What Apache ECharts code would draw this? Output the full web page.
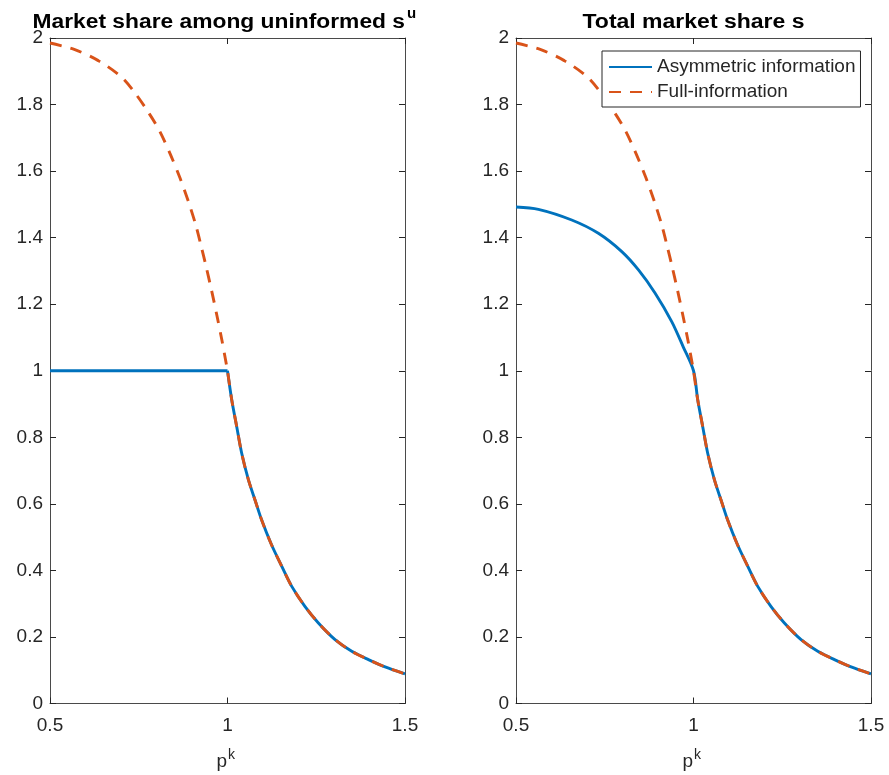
<!DOCTYPE html>
<html>
<head>
<meta charset="utf-8">
<script src="https://cdn.jsdelivr.net/npm/echarts@6/dist/echarts.min.js"></script>
<style>
html,body{margin:0;padding:0;background:#fff;}
#c{width:889px;height:775px;}
</style>
</head>
<body>
<div id="c"></div>
<script>
// ---- data ----
const xTicks = [0.5, 1, 1.5];
const yTicks = [0, 0.2, 0.4, 0.6, 0.8, 1, 1.2, 1.4, 1.6, 1.8, 2];

// Full-information market share (same in both panels)
const pFull = [0.5, 0.57, 0.636, 0.70, 0.74, 0.78, 0.81, 0.84, 0.866, 0.89, 0.91, 0.925, 0.94, 0.955, 0.97, 0.984, 0.996, 1.0,
               1.012, 1.026, 1.040, 1.059, 1.078, 1.096, 1.124, 1.153, 1.181, 1.218, 1.256, 1.303, 1.350, 1.397, 1.444, 1.5];
const sFull = [1.985, 1.965, 1.932, 1.884, 1.834, 1.772, 1.718, 1.648, 1.580, 1.508, 1.440, 1.378, 1.312, 1.242, 1.167, 1.093, 1.024, 1.0,
               0.912, 0.832, 0.752, 0.672, 0.610, 0.552, 0.477, 0.412, 0.352, 0.292, 0.242, 0.192, 0.157, 0.132, 0.110, 0.089];

// Asymmetric information, market share among uninformed (p <= 1 part)
const pAsymU = [0.5, 1.0];
const sAsymU = [1.0, 1.0];

// Asymmetric information, total market share (p < 1 part)
const pAsymS = [0.5, 0.563, 0.657, 0.732, 0.798, 0.845, 0.892, 0.939, 0.971];
const sAsymS = [1.492, 1.485, 1.453, 1.413, 1.358, 1.303, 1.233, 1.147, 1.072];

const seriesNames = ['Asymmetric information', 'Full-information'];
const titles = ['Market share among uninformed s', 'Total market share s'];
const titleSup = 'u';
const xName = 'p';
const xNameSup = 'k';

// ---- build ----
const zip = (xs, ys) => xs.map((x, i) => [x, ys[i]]);
const fullData = zip(pFull, sFull);
const fullAfter1 = fullData.filter(d => d[0] >= 1.0);
const asymUFlat = zip(pAsymU, sAsymU);
const asymSData = zip(pAsymS, sAsymS).concat(fullAfter1);

const BLUE = '#0072BD', ORANGE = '#D95319', AX = '#262626', AXL = '#4a4a4a';
const FONT = '"Liberation Sans", Arial, Helvetica, sans-serif';
const TICKFS = 19;

const grids = [
  {left: 50, top: 38, width: 355, height: 665.5},
  {left: 516, top: 38, width: 355, height: 665.5}
];

function xAxes(gi) {
  const base = {
    type: 'value', gridIndex: gi, min: xTicks[0], max: xTicks[xTicks.length - 1],
    interval: xTicks[1] - xTicks[0],
    axisLine: {show: true, onZero: false, lineStyle: {color: AXL, width: 1}},
    axisTick: {show: true, inside: true, length: 6, lineStyle: {color: AX}},
    splitLine: {show: false}
  };
  return [
    Object.assign({}, base, {position: 'bottom',
      axisLabel: {show: true, color: AX, fontSize: TICKFS, fontFamily: FONT, margin: 13}}),
    Object.assign({}, base, {position: 'top', axisLabel: {show: false}})
  ];
}
function yAxes(gi) {
  const base = {
    type: 'value', gridIndex: gi, min: yTicks[0], max: yTicks[yTicks.length - 1],
    interval: yTicks[1] - yTicks[0],
    axisLine: {show: true, onZero: false, lineStyle: {color: AXL, width: 1}},
    axisTick: {show: true, inside: true, length: 6, lineStyle: {color: AX}},
    splitLine: {show: false}
  };
  return [
    Object.assign({}, base, {position: 'left',
      axisLabel: {show: true, color: AX, fontSize: TICKFS, fontFamily: FONT, margin: 7, padding: [3, 0, 0, 0]}}),
    Object.assign({}, base, {position: 'right', axisLabel: {show: false}})
  ];
}

const lineBase = {type: 'line', symbol: 'none', showSymbol: false, animation: false, clip: false};

const series = [
  // left panel
  Object.assign({}, lineBase, {name: seriesNames[0], xAxisIndex: 0, yAxisIndex: 0, data: asymUFlat,
    lineStyle: {color: BLUE, width: 2.9}, itemStyle: {color: BLUE}, z: 2}),
  Object.assign({}, lineBase, {name: seriesNames[0], xAxisIndex: 0, yAxisIndex: 0, data: fullAfter1, smooth: 0.3,
    lineStyle: {color: BLUE, width: 2.9}, itemStyle: {color: BLUE}, z: 2}),
  Object.assign({}, lineBase, {name: seriesNames[1], xAxisIndex: 0, yAxisIndex: 0, data: fullData, smooth: 0.3,
    lineStyle: {color: ORANGE, width: 2.9, type: [12, 9]}, itemStyle: {color: ORANGE}, z: 3}),
  // right panel
  Object.assign({}, lineBase, {name: seriesNames[0], xAxisIndex: 2, yAxisIndex: 2, data: asymSData, smooth: 0.3,
    lineStyle: {color: BLUE, width: 2.9}, itemStyle: {color: BLUE}, z: 2}),
  Object.assign({}, lineBase, {name: seriesNames[1], xAxisIndex: 2, yAxisIndex: 2, data: fullData, smooth: 0.3,
    lineStyle: {color: ORANGE, width: 2.9, type: [12, 9]}, itemStyle: {color: ORANGE}, z: 3})
];

const option = {
  animation: false,
  backgroundColor: '#ffffff',
  grid: grids,
  xAxis: xAxes(0).concat(xAxes(1)),
  yAxis: yAxes(0).concat(yAxes(1)),
  legend: {
    data: seriesNames,
    orient: 'vertical',
    left: 602, top: 51,
    itemWidth: 43, itemHeight: 14, itemGap: 5,
    padding: [6, 5, 5, 6],
    borderColor: AX, borderWidth: 1, borderRadius: 0,
    backgroundColor: '#ffffff',
    itemStyle: {opacity: 0},
    textStyle: {color: AX, fontSize: 19, fontFamily: FONT, lineHeight: 20},
    selectedMode: false
  },
  graphic: [
    {type: 'text', x: 405, y: 22.5, scaleX: 1.14, z: 10, style: {
      text: titles[0], fill: '#000', font: 'bold 20px ' + FONT,
      align: 'right', verticalAlign: 'middle'
    }},
    {type: 'text', x: 407, y: 14, z: 10, style: {
      text: titleSup, fill: '#000', font: 'bold 15px ' + FONT,
      align: 'left', verticalAlign: 'middle'
    }},
    {type: 'text', x: 693.5, y: 22.5, scaleX: 1.15, z: 10, style: {
      text: titles[1], fill: '#000', font: 'bold 20px ' + FONT,
      align: 'center', verticalAlign: 'middle'
    }},
    {type: 'text', x: 227, y: 762, z: 10, style: {
      text: xName, fill: AX, font: '19px ' + FONT, align: 'right', verticalAlign: 'middle'
    }},
    {type: 'text', x: 228, y: 755, z: 10, style: {
      text: xNameSup, fill: AX, font: '14px ' + FONT, align: 'left', verticalAlign: 'middle'
    }},
    {type: 'text', x: 693, y: 762, z: 10, style: {
      text: xName, fill: AX, font: '19px ' + FONT, align: 'right', verticalAlign: 'middle'
    }},
    {type: 'text', x: 694, y: 755, z: 10, style: {
      text: xNameSup, fill: AX, font: '14px ' + FONT, align: 'left', verticalAlign: 'middle'
    }}
  ],
  series: series
};

const chart = echarts.init(document.getElementById('c'), null, {renderer: 'canvas'});
chart.setOption(option);
</script>
</body>
</html>
